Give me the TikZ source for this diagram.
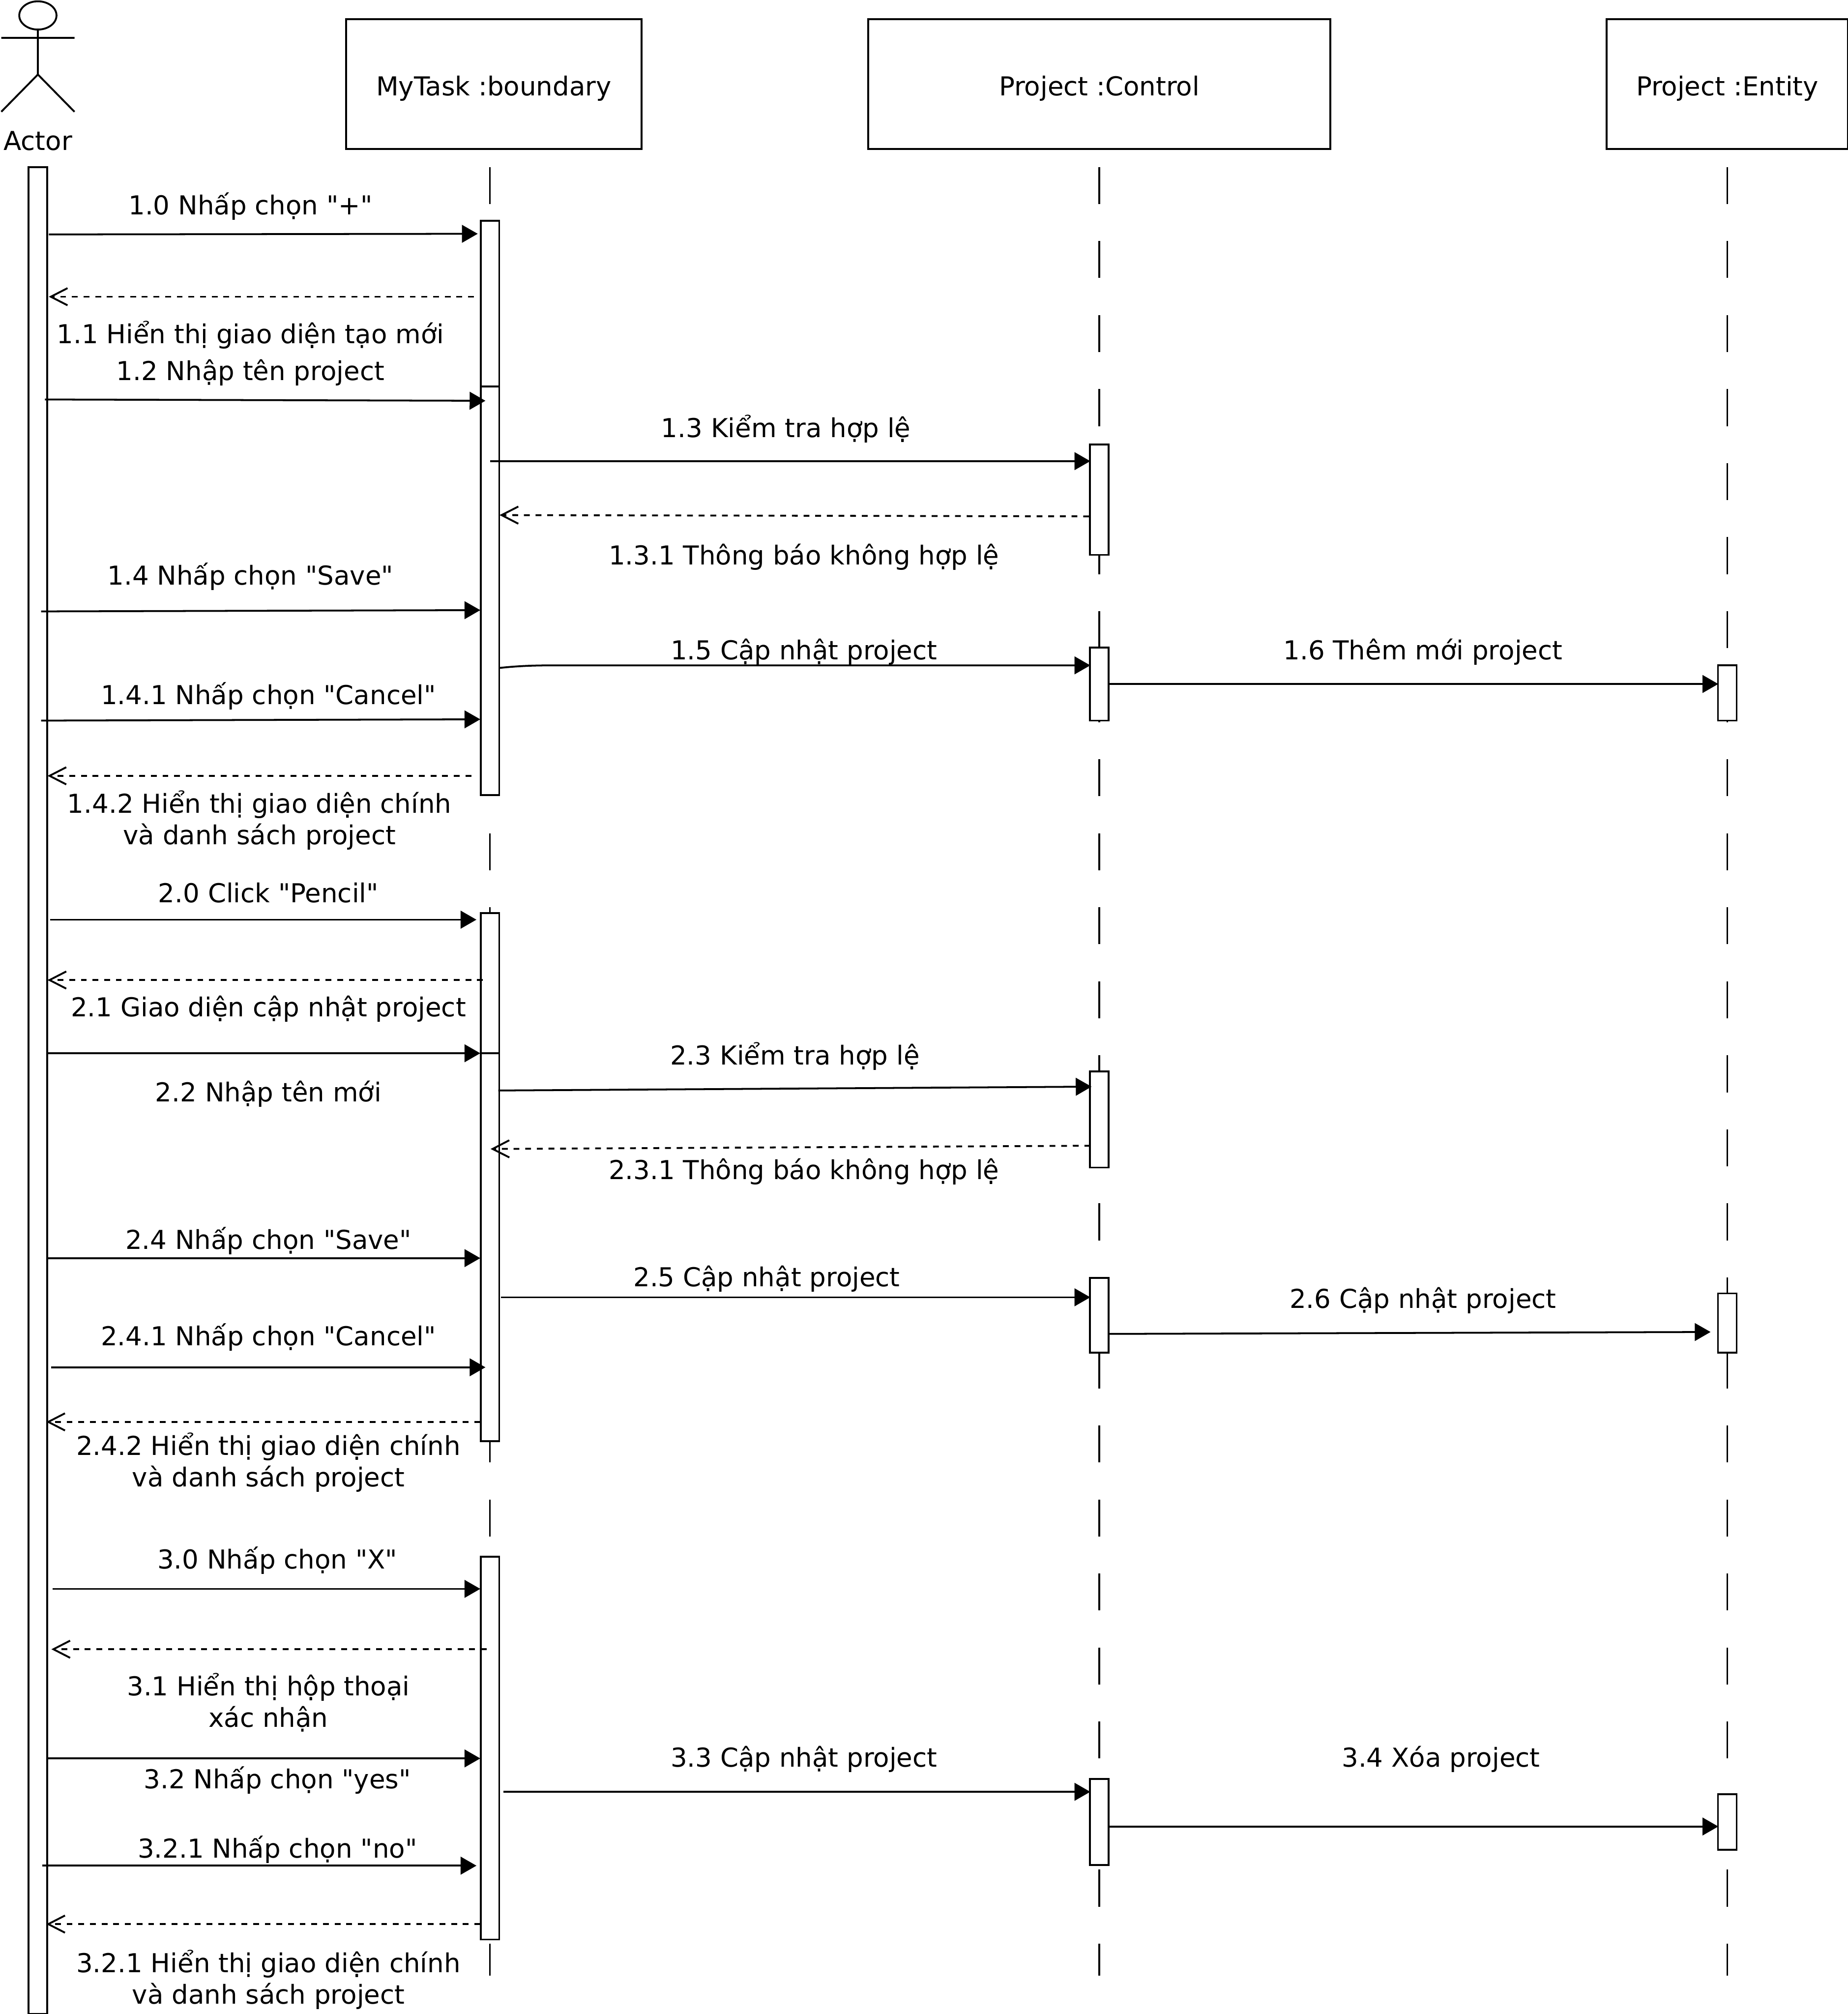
\documentclass[tikz,border=0pt]{standalone}
\usepackage{fontspec}
\setmainfont[Ligatures=TeXOff]{DejaVu Sans}
\usetikzlibrary{positioning,arrows.meta}
\tikzset{
  headbox/.style={draw, line width=0.41pt, inner sep=0pt, outer sep=0pt, minimum height=1.01cm},
  actbar/.style={draw, fill=white, line width=0.41pt, inner sep=0pt, outer sep=0pt, minimum width=0.145cm},
  lifeline/.style={line width=0.41pt, dash pattern=on 0.288cm off 0.288cm},
  callmsg/.style={line width=0.41pt, -{Triangle[length=3.5pt,width=3.9pt]}},
  retmsg/.style={line width=0.41pt, dash pattern=on 1.29pt off 1.29pt, -{Straight Barb[length=3.7pt,width=3.8pt]}},
  msglabel/.style={inner sep=0pt, anchor=base, align=center, yshift=-0.005cm}
}

\begin{document}
\begin{tikzpicture}[font=\fontsize{5.77}{7.1}\selectfont, x=0.01cm, y=-0.01cm]
\useasboundingbox (0,0) rectangle (1439,1568);
% the actor
\draw[line width=0.41pt] (29.5,12) ellipse (14.5 and 11);
\draw[line width=0.41pt] (1,29.5) -- (58,29.5) (29.5,23) -- (29.5,58) (1,87) -- (29.5,58) -- (58,87);
\node[msglabel] (actorname) at (29.5,116.5) {Actor};
% the objects along the top
\foreach \name/\x/\boxw/\t in {boundary/384.5/230/{MyTask :boundary}, control/856/360/{Project :Control}, entity/1345/188/{Project :Entity}} {
  \node[headbox, minimum width=\boxw*0.01cm] (\name) at (\x,65.5) {};
  \node[msglabel] (\name text) at (\x,74) {\t};}
% lifelines, behind the bars
\foreach \name/\x in {boundary/381.5, control/856, entity/1345} {
  \coordinate (\name top) at (\x,130);
  \coordinate (\name end) at (\x,1538);
  \draw[lifeline] (\name top) -- (\name end);}
% activation bars
\foreach \name/\x/\ya/\yb in {actor/29.5/130/1568, bnda/381.5/172/301, bndb/381.5/301/619, bndc/381.5/711/820, bndd/381.5/820/1122, bnde/381.5/1212/1510,
  ctla/856/346/432, ctlb/856/504/561, ctlc/856/834/909, ctld/856/995/1053, ctle/856/1385/1452,
  enta/1345/518/561, entb/1345/1007/1053, entc/1345/1397/1440} {
  \node[actbar, minimum height={(\yb-\ya)*0.01cm}] (\name) at (\x,{(\ya+\yb)/2}) {};}
% calls
\foreach \name/\xa/\ya/\xb/\yb in {ma/38/182.5/372/182, mc/35/311/378/312, md/381.5/359/849/359, mf/32/476/374/475, mh/863/532.5/1338/532.5, mi/32/561/374/560,
  mk/39/716/371/716, mm/37/820/374/820, mn/388/849/850/846, mp/37/979.5/374/979.5, mq/390/1010/849/1010, mr/863/1038.5/1332/1037, ms/40/1064.5/378/1064.5,
  mu/41/1237/374/1237, mw/37/1369/374/1369, mx/392/1395/849/1395, my/863/1422/1338/1422, mz/33/1452.5/371/1452.5} {
  \coordinate (\name from) at (\xa,\ya);
  \coordinate (\name to) at (\xb,\yb);
  \draw[callmsg] (\name from) -- (\name to);}
% returns
\foreach \name/\xa/\ya/\xb/\yb in {rb/369/231/38/231, re/848/402/389/401, rj/367/604/37/604, rl/376/763/37/763, ro/849/892/382/894.5, rt/374/1107/36/1107, rv/379/1284/40/1284, rz/374/1498/36/1498} {
  \coordinate (\name from) at (\xa,\ya);
  \coordinate (\name to) at (\xb,\yb);
  \draw[retmsg] (\name from) -- (\name to);}
% this one leaves the bar on a small bend
\coordinate (mg from) at (389,520);
\coordinate (mg to) at (849,518);
\draw[callmsg] (mg from) .. controls (403,518.5) and (415,518) .. (432,518) -- (mg to);
% message texts (x, baseline y)
\foreach \x/\y/\t [count=\i] in {195/166.5/{1.0 Nhấp chọn "+"}, 195/267/{1.1 Hiển thị giao diện tạo mới}, 195/295.5/{1.2 Nhập tên project}, 612/340/{1.3 Kiểm tra hợp lệ},
  626/439/{1.3.1 Thông báo không hợp lệ}, 195/455/{1.4 Nhấp chọn "Save"}, 626/513/{1.5 Cập nhật project}, 1108/513/{1.6 Thêm mới project},
  209/548/{1.4.1 Nhấp chọn "Cancel"}, 202/632.5/{1.4.2 Hiển thị giao diện chính}, 202/657/{và danh sách project}, 209/702/{2.0 Click "Pencil"},
  209/791/{2.1 Giao diện cập nhật project}, 209/857/{2.2 Nhập tên mới}, 619/828.5/{2.3 Kiểm tra hợp lệ}, 626/917.5/{2.3.1 Thông báo không hợp lệ},
  209/972/{2.4 Nhấp chọn "Save"}, 597/1001/{2.5 Cập nhật project}, 1108/1018/{2.6 Cập nhật project}, 209/1047/{2.4.1 Nhấp chọn "Cancel"},
  209/1132.5/{2.4.2 Hiển thị giao diện chính}, 209/1157/{và danh sách project}, 216/1221/{3.0 Nhấp chọn "X"}, 209/1319.5/{3.1 Hiển thị hộp thoại}, 209/1344/{xác nhận},
  216/1392/{3.2 Nhấp chọn "yes"}, 626/1375/{3.3 Cập nhật project}, 1122/1375/{3.4 Xóa project}, 216/1446/{3.2.1 Nhấp chọn "no"},
  209/1535/{3.2.1 Hiển thị giao diện chính}, 209/1559.5/{và danh sách project}} {
  \node[msglabel] (lbl\i) at (\x,\y) {\t};}
\end{tikzpicture}
\end{document}
